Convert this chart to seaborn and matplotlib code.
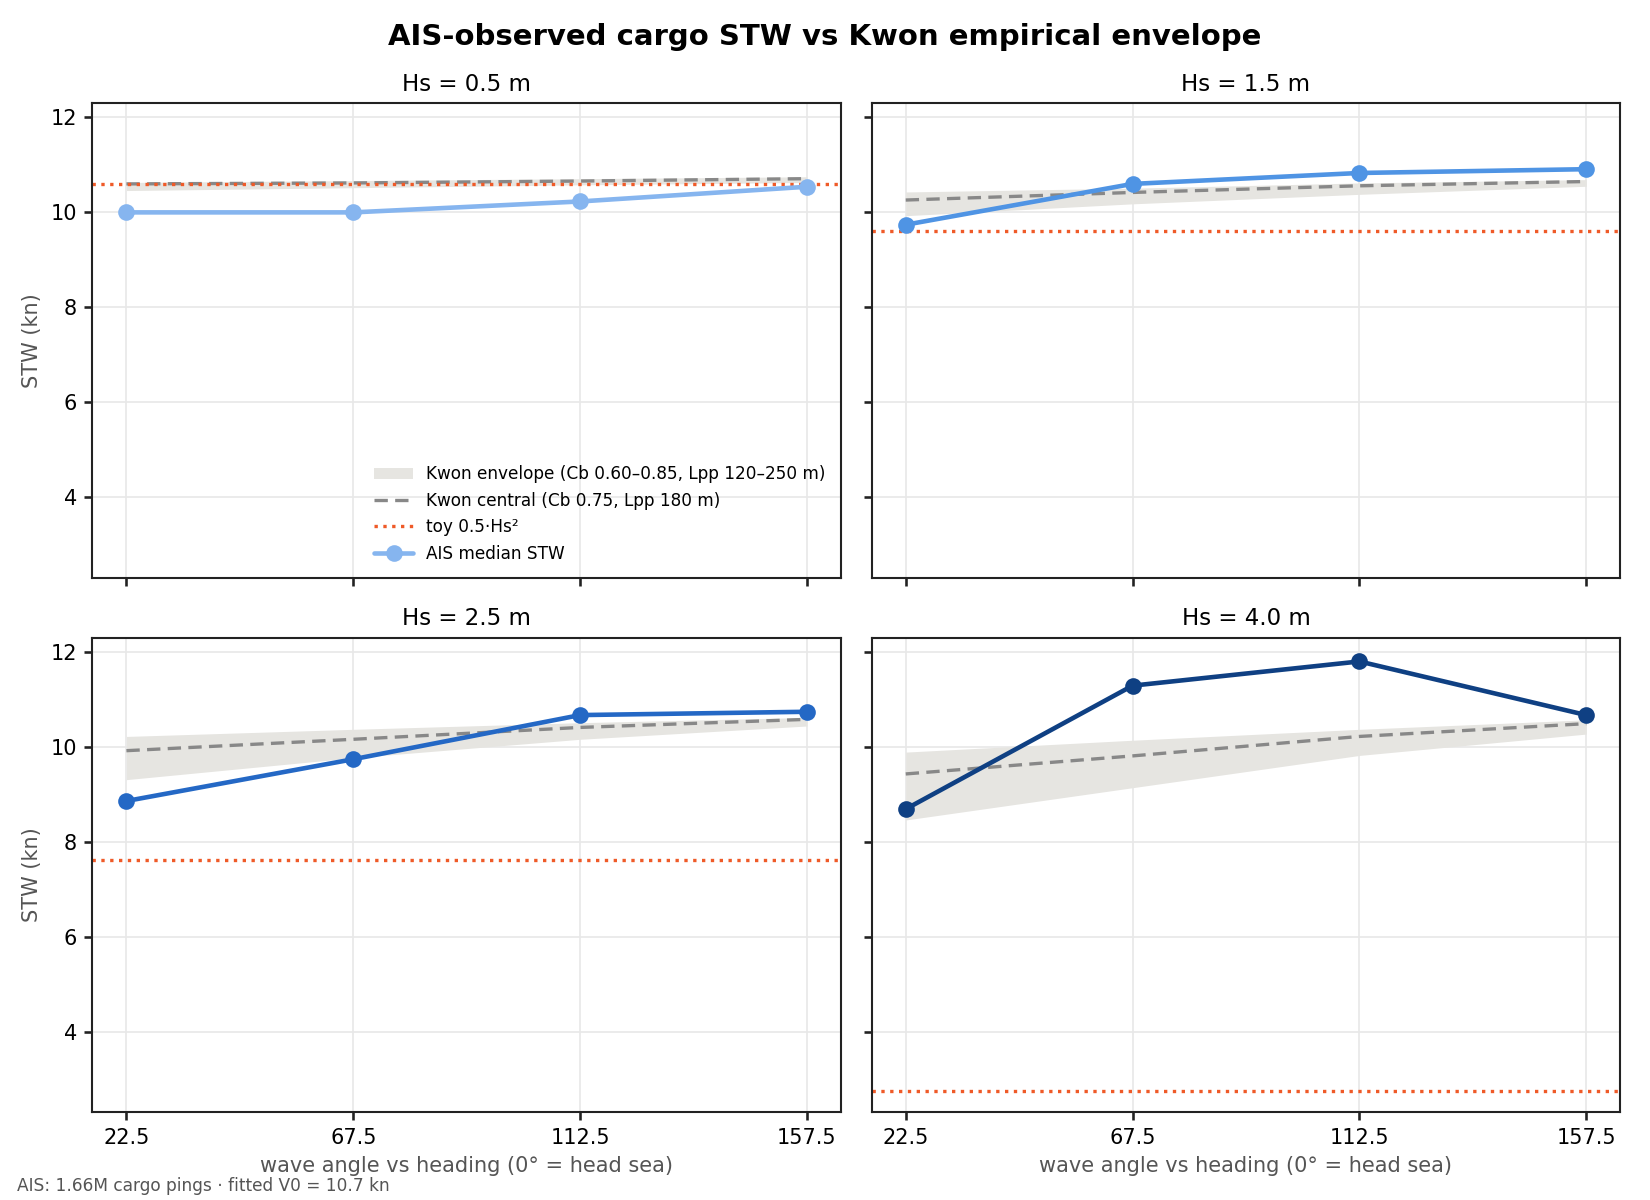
import numpy as np
import pandas as pd
import matplotlib
matplotlib.use("Agg")
import matplotlib.pyplot as plt
import seaborn as sns

angles = [22.5, 67.5, 112.5, 157.5]
hs_levels = [0.5, 1.5, 2.5, 4.0]

ais_median = {
    0.5: [10.00, 10.00, 10.23, 10.54],
    1.5: [9.74, 10.60, 10.83, 10.91],
    2.5: [8.86, 9.74, 10.67, 10.74],
    4.0: [8.69, 11.29, 11.80, 10.67],
}
kwon_central = {
    0.5: [10.60, 10.62, 10.66, 10.71],
    1.5: [10.26, 10.42, 10.56, 10.65],
    2.5: [9.92, 10.16, 10.41, 10.58],
    4.0: [9.43, 9.81, 10.22, 10.49],
}
kwon_low = {
    0.5: [10.46, 10.52, 10.58, 10.63],
    1.5: [9.93, 10.18, 10.38, 10.55],
    2.5: [9.31, 9.77, 10.16, 10.44],
    4.0: [8.46, 9.14, 9.82, 10.27],
}
kwon_high = {
    0.5: [10.63, 10.67, 10.71, 10.75],
    1.5: [10.43, 10.51, 10.62, 10.69],
    2.5: [10.22, 10.37, 10.51, 10.62],
    4.0: [9.89, 10.14, 10.37, 10.57],
}
toy_stw = {0.5: 10.6, 1.5: 9.6, 2.5: 7.62, 4.0: 2.75}

ais_colors = {0.5: "#86b5ef", 1.5: "#4f94e4", 2.5: "#2468c5", 4.0: "#0f4083"}

sns.set_theme(style="ticks")
plt.rcParams["font.family"] = ["DejaVu Sans"]
plt.rcParams.update({"text.color": "black", "axes.labelcolor": "black",
                     "xtick.color": "black", "ytick.color": "black"})

fig, axes = plt.subplots(2, 2, figsize=(11, 8), dpi=150, sharex=True, sharey=True)
fig.subplots_adjust(left=0.056, right=0.982, top=0.914, bottom=0.073,
                    wspace=0.041, hspace=0.126)

for ax, hs in zip(axes.flat, hs_levels):
    df = pd.DataFrame({"angle": angles, "ais": ais_median[hs],
                       "central": kwon_central[hs],
                       "low": kwon_low[hs], "high": kwon_high[hs]})
    ax.fill_between(df["angle"], df["low"], df["high"], color="#e6e5e1",
                    linewidth=0, label="Kwon envelope (Cb 0.60–0.85, Lpp 120–250 m)",
                    zorder=1)
    sns.lineplot(data=df, x="angle", y="central", ax=ax, color="#888888",
                 linestyle=(0, (4, 2.2)), linewidth=1.6,
                 label="Kwon central (Cb 0.75, Lpp 180 m)", zorder=2)
    ax.axhline(toy_stw[hs], color="#ef5a28", linestyle=":", linewidth=1.6,
               label="toy 0.5·Hs²", zorder=2)
    sns.lineplot(data=df, x="angle", y="ais", ax=ax, color=ais_colors[hs],
                 marker="o", markersize=8, markeredgewidth=0, linewidth=2.2,
                 label="AIS median STW", zorder=3)
    ax.set_title(f"Hs = {hs} m", fontsize=11)
    ax.grid(True, color="#e8e8e8", linewidth=0.8)
    ax.set_axisbelow(True)
    for s in ax.spines.values():
        s.set_color("#222222")
        s.set_linewidth(1.0)
    ax.tick_params(labelsize=10, length=4, color="#222222")
    ax.set_xlabel("")
    ax.set_ylabel("")
    if ax is not axes.flat[0]:
        leg = ax.get_legend()
        if leg is not None:
            leg.remove()

axes[0, 0].legend(loc="lower right", frameon=False, fontsize=8.1,
                  handlelength=2.3)

ax0 = axes[0, 0]
ax0.set_xticks(angles)
ax0.set_xticklabels([str(a) for a in angles])
ax0.set_yticks([4, 6, 8, 10, 12])
ax0.set_ylim(2.3, 12.3)
ax0.set_xlim(15.75, 164.25)

for ax in axes[:, 0]:
    ax.set_ylabel("STW (kn)", fontsize=10, color="#555555")
for ax in axes[1, :]:
    ax.set_xlabel("wave angle vs heading (0° = head sea)", fontsize=10, color="#555555")

fig.suptitle("AIS-observed cargo STW vs Kwon empirical envelope",
             fontsize=14, fontweight="bold", y=0.981)
fig.text(0.0102, 0.004, "AIS: 1.66M cargo pings · fitted V0 = 10.7 kn",
         fontsize=8.15, color="#555555", ha="left", va="bottom")

fig.savefig("out.png", dpi=150)
